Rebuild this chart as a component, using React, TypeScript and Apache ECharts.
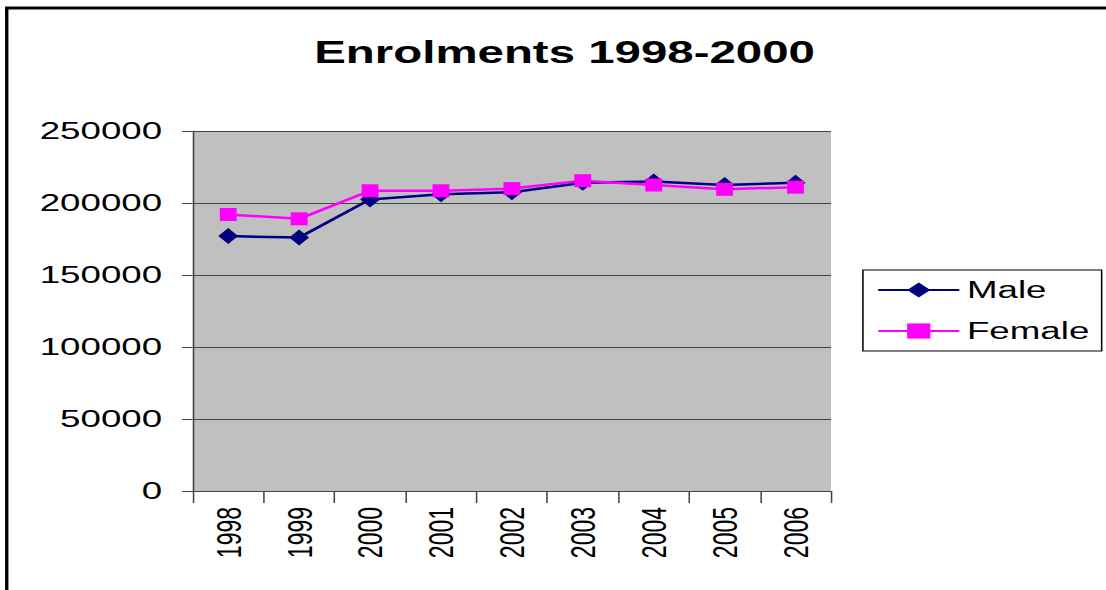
import React, { useEffect, useRef } from "react";
import * as echarts from "echarts";

const years = ["1998", "1999", "2000", "2001", "2002", "2003", "2004", "2005", "2006"];
const male = [177000, 176000, 202500, 206000, 207500, 214000, 215000, 212500, 214000];
const female = [192000, 189000, 208500, 208500, 210000, 215500, 212500, 209500, 211000];
const titleText = "Enrolments 1998-2000";

const SX = 1.53;
const W = 1106 / SX;
const H = 590;
const FONT = "'Liberation Sans', Arial, Helvetica, sans-serif";

export default function App() {
  const ref = useRef<HTMLDivElement>(null);
  useEffect(() => {
    if (!ref.current) return;
    const chart = echarts.init(ref.current, undefined, { renderer: "svg" });
    chart.setOption({
      animation: false,
      backgroundColor: "#ffffff",
      textStyle: { fontFamily: FONT },
      title: {
        text: titleText,
        left: 364,
        textAlign: "center",
        top: 32,
        textStyle: { fontSize: 31, fontWeight: "bold", color: "#000", fontFamily: FONT },
      },
      legend: {
        orient: "vertical",
        left: 564,
        top: 270,
        padding: [8, 8, 8, 9],
        itemGap: 17,
        itemWidth: 53,
        itemHeight: 19,
        borderColor: "#000",
        borderWidth: 1,
        backgroundColor: "#fff",
        textStyle: { fontSize: 24, color: "#000", fontFamily: FONT },
        data: ["Male", "Female"],
      },
      grid: {
        left: 126,
        right: W - 543,
        top: 131,
        bottom: 99,
        show: true,
        backgroundColor: "#c0c0c0",
        borderWidth: 0,
        containLabel: false,
      },
      xAxis: {
        type: "category",
        data: years,
        boundaryGap: true,
        axisLine: { lineStyle: { color: "#444", width: 1 } },
        axisTick: { show: true, length: 12, lineStyle: { color: "#444" } },
        axisLabel: { rotate: 90, fontSize: 23, color: "#000", margin: 16, fontFamily: FONT },
        splitLine: { show: false },
      },
      yAxis: {
        type: "value",
        min: 0,
        max: 250000,
        interval: 50000,
        axisLine: { show: true, lineStyle: { color: "#444", width: 1 } },
        axisTick: { show: true, length: 7, lineStyle: { color: "#444" } },
        axisLabel: {
          fontSize: 24,
          color: "#000",
          margin: 20,
          fontFamily: FONT,
          formatter: (v: number) => String(v),
        },
        splitLine: { show: true, lineStyle: { color: "#444", width: 1 } },
      },
      series: [
        {
          name: "Male",
          type: "line",
          data: male,
          symbol: "diamond",
          symbolSize: [13, 16],
          lineStyle: { color: "#000080", width: 2.5 },
          itemStyle: { color: "#000080" },
        },
        {
          name: "Female",
          type: "line",
          data: female,
          symbol: "rect",
          symbolSize: [11, 13],
          lineStyle: { color: "#ff00ff", width: 2.5 },
          itemStyle: { color: "#ff00ff" },
        },
      ],
      graphic: [
        {
          type: "line",
          shape: { x1: 4.4, y1: 8, x2: 4.4, y2: 590 },
          style: { stroke: "#000", lineWidth: 2.2 },
        },
        {
          type: "line",
          shape: { x1: 3.3, y1: 8, x2: W, y2: 8 },
          style: { stroke: "#000", lineWidth: 3 },
        },
      ],
    });
    return () => chart.dispose();
  }, []);
  return (
    <div
      ref={ref}
      style={{
        position: "absolute",
        left: 0,
        top: 0,
        width: W,
        height: H,
        transform: `scaleX(${SX})`,
        transformOrigin: "0 0",
      }}
    />
  );
}
